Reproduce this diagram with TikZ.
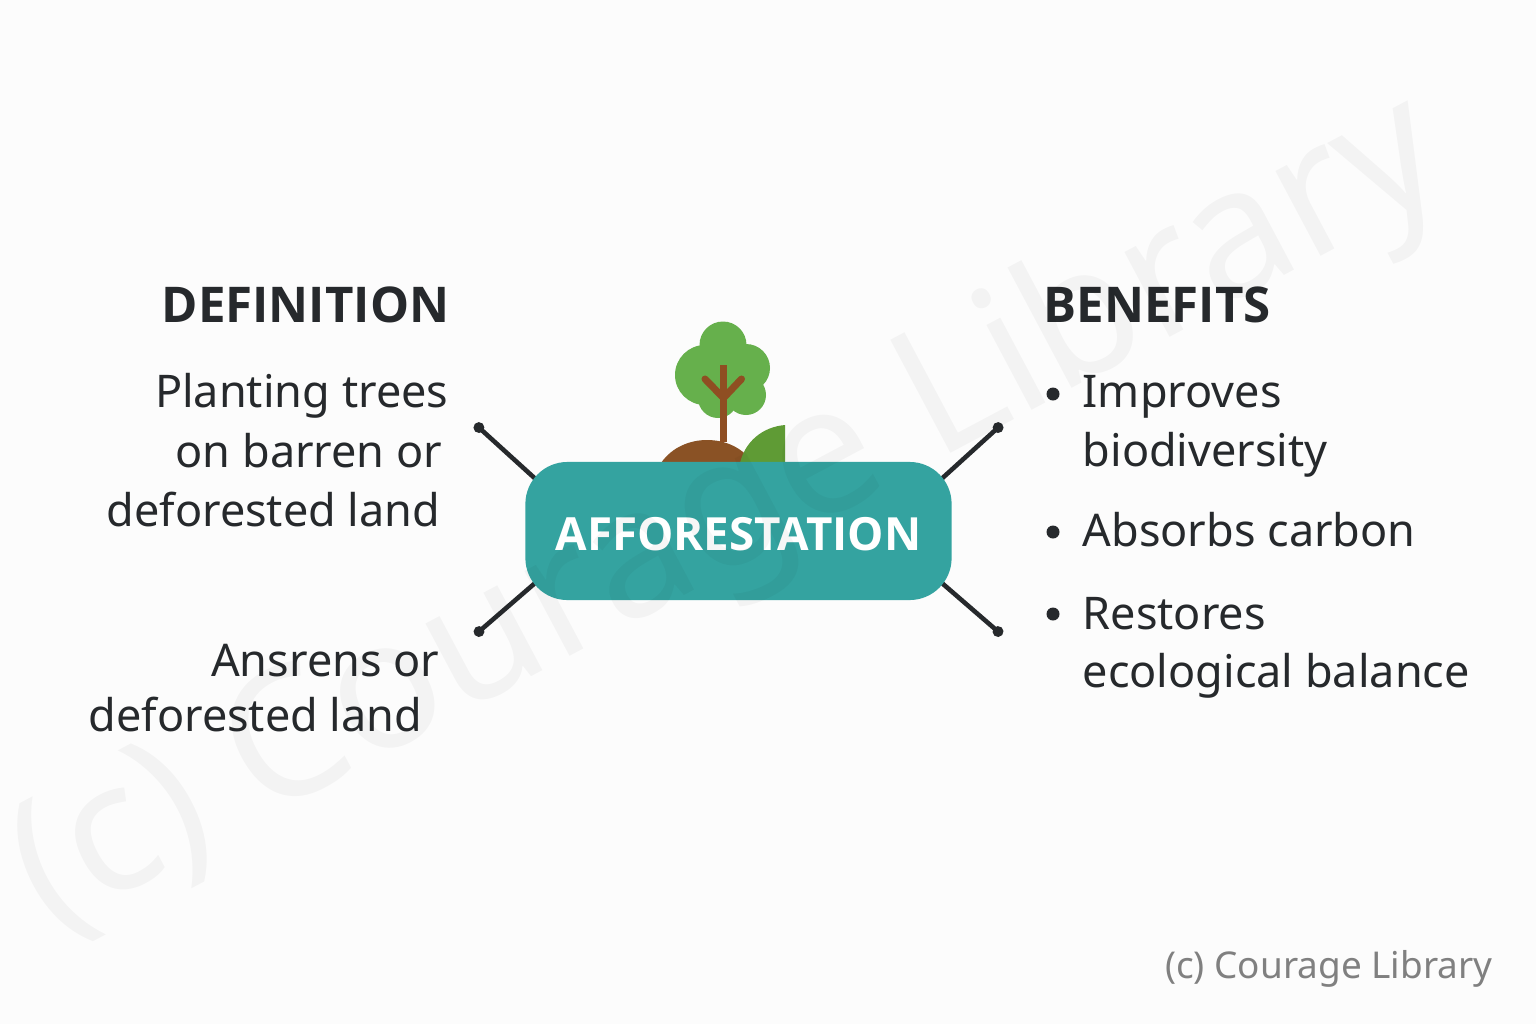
\documentclass[tikz,border=0pt]{standalone}
\usepackage{fontspec}
\setmainfont{Noto Sans}
\newfontfamily\headfont{Open Sans}
\usetikzlibrary{calc}
\usetikzlibrary{arrows.meta, backgrounds}
\definecolor{inkdark}{HTML}{26292C}
\definecolor{hubteal}{HTML}{34A3A0}
\definecolor{crowngreen}{HTML}{66B04C}
\definecolor{leafgreen}{HTML}{5F9B35}
\definecolor{trunkbrown}{HTML}{8F4E22}
\definecolor{soilbrown}{HTML}{8A5225}
\tikzstyle{hubnode} = [rectangle, 
minimum width=4.26cm, 
minimum height=1.38cm, 
rounded corners=0.42cm, 
text centered, 
text height=11pt, 
text=white, 
fill=hubteal, 
font=\fontsize{13}{16}\selectfont\headfont\bfseries]
\tikzstyle{headnode} = [inner sep=0pt, text=inkdark, font=\fontsize{14}{16}\selectfont\headfont\bfseries]
\tikzstyle{linenode} = [inner sep=0pt, text=inkdark, font=\fontsize{12.8}{15}\selectfont]
\tikzstyle{creditnode} = [inner sep=0pt, text=black!50, font=\fontsize{10.5}{13}\selectfont]
\tikzstyle{bulletdot} = [circle, inner sep=0pt, minimum size=0.13cm, fill=inkdark]
\tikzstyle{spoke} = [line width=1.3pt, draw=inkdark, {Circle[length=3pt]}-]
\tikzstyle{twig} = [line width=2pt, draw=trunkbrown, line cap=round]
\begin{document}
\begin{tikzpicture}[x=0.01cm, y=-0.01cm]
    \useasboundingbox (0,0) rectangle (1536,1024);
    \node (hub) [hubnode] at (738.5,531) {AFFORESTATION};

    % Left column
    \node (defhead) [headnode, anchor=base east] at (450,322) {DEFINITION};
    \node (defa) [linenode, anchor=base east] at (449,407) {Planting trees};
    \node (defb) [linenode, anchor=base east] at (443,467) {on barren or};
    \node (defc) [linenode, anchor=base east] at (441,526) {deforested land};
    \node (defd) [linenode, anchor=base east] at (440,676) {Ansrens or};
    \node (defe) [linenode, anchor=base east] at (423,731) {deforested land};

    % Right column
    \node (benhead) [headnode, anchor=base west] at (1043,322) {BENEFITS};
    \node (dota) [bulletdot] at (1053,394) {};
    \node (bena) [linenode, anchor=base west] at (1082,407) {Improves};
    \node (benb) [linenode, anchor=base west] at (1082,466) {biodiversity};
    \node (dotb) [bulletdot] at (1053,532) {};
    \node (benc) [linenode, anchor=base west] at (1082,546) {Absorbs carbon};
    \node (dotc) [bulletdot] at (1053,614) {};
    \node (bend) [linenode, anchor=base west] at (1082,629) {Restores};
    \node (bene) [linenode, anchor=base west] at (1082,687) {ecological balance};

    \node (credit) [creditnode, anchor=base east] at (1493,978) {(c) Courage Library};

    \coordinate (endnw) at (475,424);
    \coordinate (endne) at (1002,424);
    \coordinate (endsw) at (475,635);
    \coordinate (endse) at (1002,635);

    \begin{scope}[on background layer]
        \fill [white!99!black] (0,0) rectangle (1536,1024);

        % Tree behind the hub
        \fill [soilbrown] (661,463) .. controls (672,447) and (690,440) .. (707,440) .. controls (726,440) and (743,448) .. (753,463) -- cycle;
        \fill [leafgreen] (785,425) .. controls (762,427) and (745,442) .. (740,463) -- (785,463) -- cycle;
        \fill [crowngreen] (723,345) circle (23.5);
        \fill [crowngreen] (705,375) circle (30);
        \fill [crowngreen] (746,368) circle (24);
        \fill [crowngreen] (746,395) circle (20);
        \fill [crowngreen] (718,398) circle (20);
        \fill [crowngreen] (725,375) circle (24);
        \draw [twig, line width=2.1pt, line cap=butt] (723.5,442) -- (723.5,365);
        \draw [twig] (705,379) -- (723.5,398) -- (741.5,379);

        % Spokes
        \draw [spoke] (endnw) -- ($(hub.north west) + (20,26)$);
        \draw [spoke] (endne) -- ($(hub.north east) + (-20,26)$);
        \draw [spoke] (endsw) -- ($(hub.south west) + (20,-26)$);
        \draw [spoke] (endse) -- ($(hub.south east) + (-20,-26)$);
    \end{scope}

    % Watermark
    \node (mark) [inner sep=0pt, rotate=28, text opacity=0.035, font=\fontsize{51}{60}\selectfont] at (730,518) {(c) Courage Library};
\end{tikzpicture}
\end{document}
